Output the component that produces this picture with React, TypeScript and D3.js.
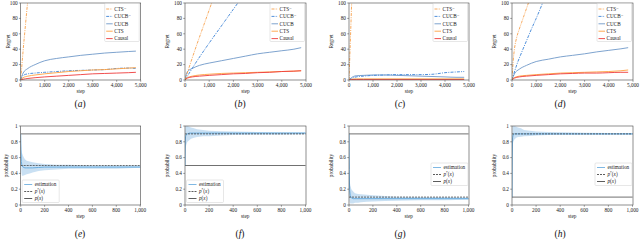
import React from 'react';
import * as d3 from 'd3';

// ---- regret panels (a)-(d) ----
const regretSteps = [0, 100, 300, 600, 1000, 1500, 2000, 2500, 3000, 3500, 4000, 4500, 4800];

const cucbA = [0, 9, 15, 20, 25, 28, 30, 32, 33.5, 35, 36, 37, 37.5];
const cucbMinusA = [0, 6, 8, 9, 10, 11, 12, 12.5, 13, 13.5, 15, 15.5, 15];
const ctsA = [0, 3, 5, 6.5, 8, 9.5, 11, 12, 13, 13.5, 14.5, 15.5, 16];
const causalA = [0, 1, 2, 3, 4, 5, 6, 7, 8, 8.5, 9, 9.5, 10];
const ctsMinusStepsA = [0, 100, 200, 300];
const ctsMinusA = [0, 38, 72, 105];

const cucbB = [0, 11, 15, 19, 22, 25, 28, 31, 34, 36, 38, 40, 42];
const cucbMinusStepsB = [0, 500, 1000, 1500, 2000, 2300];
const cucbMinusB = [0, 25, 48, 70, 92, 105];
const ctsB = [0, 3, 5, 6.5, 7.5, 8.5, 9, 9.5, 10, 10.5, 11, 11.5, 12];
const causalB = [0, 2.5, 4, 5, 6, 7, 8, 8.5, 9.5, 10, 11, 11.5, 12];
const ctsMinusStepsB = [0, 250, 500, 750, 1000, 1200];
const ctsMinusB = [0, 24, 47, 69, 91, 109];

const cucbC = [0, 3, 5.5, 6, 6.5, 6.5, 6, 5.5, 5, 4.5, 4, 3.5, 3.5];
const cucbMinusC = [0, 2, 4, 5, 6, 6.5, 7, 7, 7, 7.5, 9.5, 10.5, 11];
const ctsC = [0, 1, 1.5, 1.5, 1.5, 1.5, 1.5, 1.5, 1.5, 1.5, 1.5, 1.5, 1.5];
const causalC = [0, 0.5, 0.5, 0.5, 0.5, 0.5, 0.5, 0.5, 0.5, 0.5, 0.5, 0.5, 0.5];
const ctsMinusStepsC = [0, 50, 100, 120];
const ctsMinusC = [0, 45, 90, 108];

const cucbD = [0, 8, 14, 19, 24, 27, 30, 32, 34, 36.5, 38.5, 40.5, 42];
const cucbMinusStepsD = [0, 200, 400, 600, 800, 1000, 1200, 1300];
const cucbMinusD = [0, 20, 36, 51, 66, 80, 95, 103];
const ctsD = [0, 3, 5, 6, 7, 8, 9, 9.5, 10, 10.5, 11, 12, 13];
const causalD = [0, 2.5, 4, 5, 6, 7, 8, 8.5, 9, 9, 9.5, 10, 10];
const ctsMinusStepsD = [0, 50, 100, 200, 300, 400, 500, 600, 700];
const ctsMinusD = [0, 25, 40, 56, 66, 75, 84, 93, 102];

const regretXTicks = [0, 1000, 2000, 3000, 4000, 5000];
const regretYTicks = [0, 20, 40, 60, 80, 100];
const regretLegend = ['CTS⁻', 'CUCB⁻', 'CUCB', 'CTS', 'Causal'];

// ---- probability panels (e)-(h) ----
const probSteps = [0, 2, 5, 10, 20, 35, 50, 75, 100, 150, 200, 300, 400, 600, 800, 1000];

const estE = [0.9, 0.7, 0.55, 0.5, 0.48, 0.47, 0.47, 0.47, 0.47, 0.475, 0.48, 0.48, 0.48, 0.48, 0.48, 0.48];
const upE = [0.9, 0.8, 0.72, 0.66, 0.62, 0.58, 0.56, 0.55, 0.54, 0.53, 0.52, 0.51, 0.51, 0.5, 0.5, 0.5];
const loE = [0.9, 0.6, 0.42, 0.37, 0.37, 0.38, 0.39, 0.4, 0.41, 0.43, 0.44, 0.45, 0.46, 0.46, 0.46, 0.47];

const estF = [0.5, 0.8, 0.87, 0.89, 0.9, 0.91, 0.91, 0.91, 0.91, 0.91, 0.91, 0.91, 0.91, 0.91, 0.91, 0.91];
const upF = [0.5, 0.95, 1, 1, 1, 0.99, 0.98, 0.97, 0.96, 0.95, 0.94, 0.935, 0.93, 0.925, 0.92, 0.92];
const loF = [0.5, 0.65, 0.72, 0.76, 0.8, 0.82, 0.84, 0.85, 0.86, 0.87, 0.87, 0.88, 0.885, 0.89, 0.89, 0.895];

const estG = [0.9, 0.45, 0.2, 0.12, 0.09, 0.08, 0.08, 0.08, 0.08, 0.08, 0.08, 0.08, 0.08, 0.08, 0.08, 0.08];
const upG = [0.9, 0.6, 0.35, 0.25, 0.2, 0.17, 0.15, 0.14, 0.135, 0.13, 0.125, 0.115, 0.105, 0.1, 0.1, 0.095];
const loG = [0.9, 0.3, 0.05, 0.02, 0.02, 0.02, 0.03, 0.03, 0.035, 0.04, 0.045, 0.05, 0.055, 0.06, 0.06, 0.065];

const estH = [0.1, 0.6, 0.85, 0.89, 0.9, 0.9, 0.9, 0.9, 0.9, 0.9, 0.9, 0.9, 0.9, 0.9, 0.9, 0.9];
const upH = [0.1, 0.8, 1, 1, 1, 0.99, 0.98, 0.97, 0.95, 0.94, 0.93, 0.925, 0.92, 0.915, 0.91, 0.91];
const loH = [0.1, 0.45, 0.75, 0.8, 0.83, 0.85, 0.86, 0.865, 0.87, 0.875, 0.88, 0.885, 0.89, 0.89, 0.89, 0.89];

const pTrue = [0.9, 0.5, 0.9, 0.1];
const pStar = [0.5, 0.9, 0.1, 0.9];

const probXTicks = [0, 200, 400, 600, 800, 1000];
const probYTicks = [0, 0.2, 0.4, 0.6, 0.8, 1];

const topCaptions = ['a', 'b', 'c', 'd'];
const bottomCaptions = ['e', 'f', 'g', 'h'];

const FONT = '"Liberation Serif", "DejaVu Serif", serif';
const C = {
  ctsMinus: '#f7a04c',
  cucbMinus: '#3b82d6',
  cucb: '#6f98c8',
  cts: '#ffa040',
  causal: '#ee3b3b',
  est: '#5ea6dc',
  band: '#bcd8f0',
  dark: '#333333',
};
const DASH = '3,1.2,1,1.2';

const fmt = d3.format(',');
const pfmt = (v: number) => (v === 0 || v === 1 ? String(v) : v.toFixed(1));

type Pt = [number, number];
const zip = (xs: number[], ys: number[]): Pt[] => xs.map((x, i) => [x, ys[i]]);

const regretPanels = [
  { ctsM: zip(ctsMinusStepsA, ctsMinusA), cucbM: zip(regretSteps, cucbMinusA), cucb: cucbA, cts: ctsA, causal: causalA },
  { ctsM: zip(ctsMinusStepsB, ctsMinusB), cucbM: zip(cucbMinusStepsB, cucbMinusB), cucb: cucbB, cts: ctsB, causal: causalB },
  { ctsM: zip(ctsMinusStepsC, ctsMinusC), cucbM: zip(regretSteps, cucbMinusC), cucb: cucbC, cts: ctsC, causal: causalC },
  { ctsM: zip(ctsMinusStepsD, ctsMinusD), cucbM: zip(cucbMinusStepsD, cucbMinusD), cucb: cucbD, cts: ctsD, causal: causalD },
];
const probPanels = [
  { est: estE, up: upE, lo: loE },
  { est: estF, up: upF, lo: loF },
  { est: estG, up: upG, lo: loG },
  { est: estH, up: upH, lo: loH },
];

// axes placement (pixels)
const lefts = [20.7, 185, 349, 512];
const rights = [140.7, 306, 469, 633];
const topRow = { top: 3, bottom: 80 };
const botRow = { top: 126, bottom: 205 };
const legendPos = ['bl', 'bl', 'r', 'r'];

function Frame({ x0, x1, y0, y1 }: { x0: number; x1: number; y0: number; y1: number }) {
  return <rect x={x0} y={y0} width={x1 - x0} height={y1 - y0} fill="none" stroke="#444" strokeWidth={0.6} />;
}

function Axes({ x, y, xt, yt, xf, yf, ylabel, labelX }: any) {
  const [y1, y0] = y.range();
  const [x0] = x.range();
  return (
    <g fontFamily={FONT} fontSize={5.3} fill="#222">
      {xt.map((t: number) => (
        <g key={'x' + t}>
          <line x1={x(t)} x2={x(t)} y1={y1} y2={y1 + 1.8} stroke="#444" strokeWidth={0.5} />
          <text x={x(t)} y={y1 + 7} textAnchor="middle">{xf(t)}</text>
        </g>
      ))}
      {yt.map((t: number) => (
        <g key={'y' + t}>
          <line x1={x0 - 1.8} x2={x0} y1={y(t)} y2={y(t)} stroke="#444" strokeWidth={0.5} />
          <text x={x0 - 3} y={y(t) + 1.8} textAnchor="end">{yf(t)}</text>
        </g>
      ))}
      <text x={(x0 + x.range()[1]) / 2} y={y1 + 12.5} textAnchor="middle">step</text>
      <text transform={`translate(${labelX},${(y0 + y1) / 2}) rotate(-90)`} textAnchor="middle">{ylabel}</text>
    </g>
  );
}

function RegretPanel({ i }: { i: number }) {
  const d = regretPanels[i];
  const x = d3.scaleLinear().domain([0, 5000]).range([lefts[i], rights[i]]);
  const y = d3.scaleLinear().domain([0, 100]).range([topRow.bottom, topRow.top]);
  const line = d3.line<Pt>().x(p => x(p[0])).y(p => y(p[1])).curve(d3.curveMonotoneX);
  const id = `clipR${i}`;
  const lines = [
    { pts: zip(regretSteps, d.cucb), c: C.cucb, dash: undefined },
    { pts: d.cucbM, c: C.cucbMinus, dash: DASH },
    { pts: zip(regretSteps, d.cts), c: C.cts, dash: undefined },
    { pts: zip(regretSteps, d.causal), c: C.causal, dash: undefined },
    { pts: d.ctsM, c: C.ctsMinus, dash: DASH },
  ];
  const legendStyle = [
    { c: C.ctsMinus, dash: DASH },
    { c: C.cucbMinus, dash: DASH },
    { c: C.cucb, dash: undefined },
    { c: C.cts, dash: undefined },
    { c: C.causal, dash: undefined },
  ];
  const lx = rights[i] - 36;
  const ly = topRow.top + 0.5;
  const labelX = lefts[i] - (i === 0 ? 11 : 16);
  return (
    <g>
      <defs>
        <clipPath id={id}>
          <rect x={lefts[i]} y={topRow.top} width={rights[i] - lefts[i]} height={topRow.bottom - topRow.top} />
        </clipPath>
      </defs>
      <g clipPath={`url(#${id})`}>
        {lines.map((s, k) => (
          <path key={k} d={line(s.pts) || ''} fill="none" stroke={s.c} strokeWidth={0.9} strokeDasharray={s.dash} />
        ))}
      </g>
      <Frame x0={lefts[i]} x1={rights[i]} y0={topRow.top} y1={topRow.bottom} />
      <Axes x={x} y={y} xt={regretXTicks} yt={regretYTicks} xf={fmt} yf={String} ylabel="Regret" labelX={labelX} />
      <g fontFamily={FONT} fontSize={5.2}>
        <rect x={lx} y={ly} width={34.5} height={38} rx={1} fill="white" fillOpacity={0.85} stroke="#cfcfcf" strokeWidth={0.5} />
        {regretLegend.map((name, k) => {
          const yy = ly + 5.5 + k * 7.4;
          return (
            <g key={name}>
              <line x1={lx + 1.5} x2={lx + 8} y1={yy} y2={yy} stroke={legendStyle[k].c} strokeWidth={0.9} strokeDasharray={legendStyle[k].dash} />
              <text x={lx + 9.5} y={yy + 1.7} fill="#222">{name}</text>
            </g>
          );
        })}
      </g>
    </g>
  );
}

function PStar() {
  return (
    <>
      <tspan fontStyle="italic">p</tspan>
      <tspan fontSize={3.5} dy={-2}>*</tspan>
      <tspan dy={2}>(</tspan>
      <tspan fontStyle="italic">x</tspan>
      <tspan>)</tspan>
    </>
  );
}
function PX() {
  return (
    <>
      <tspan fontStyle="italic">p</tspan>
      <tspan>(</tspan>
      <tspan fontStyle="italic">x</tspan>
      <tspan>)</tspan>
    </>
  );
}

function ProbPanel({ i }: { i: number }) {
  const d = probPanels[i];
  const x = d3.scaleLinear().domain([0, 1000]).range([lefts[i], rights[i] - 0.5]);
  const y = d3.scaleLinear().domain([0, 1]).range([botRow.bottom, botRow.top]);
  const pts = probSteps.map((s, k) => ({ s, e: d.est[k], u: d.up[k], l: d.lo[k] }));
  const area = d3.area<any>().x(p => x(p.s)).y0(p => y(p.l)).y1(p => y(p.u));
  const line = d3.line<any>().x(p => x(p.s)).y(p => y(p.e));
  const id = `clipP${i}`;
  const labelX = lefts[i] - (i === 0 ? 13 : 16);
  const pos = legendPos[i];
  const lw = 37;
  const lh = 22.5;
  const lx = pos === 'bl' ? lefts[i] + 1.5 : rights[i] - lw - 1;
  const ly = pos === 'bl' ? botRow.bottom - lh - 2.5 : botRow.top + 37;
  const entries = [
    { c: C.est, dash: undefined, label: <tspan>estimation</tspan> },
    { c: C.dark, dash: '2,1', label: <PStar /> },
    { c: C.dark, dash: undefined, label: <PX /> },
  ];
  return (
    <g>
      <defs>
        <clipPath id={id}>
          <rect x={lefts[i]} y={botRow.top} width={rights[i] - lefts[i]} height={botRow.bottom - botRow.top} />
        </clipPath>
      </defs>
      <g clipPath={`url(#${id})`}>
        <path d={area(pts) || ''} fill={C.band} fillOpacity={0.8} />
        <line x1={x(0)} x2={x(1000)} y1={y(pTrue[i])} y2={y(pTrue[i])} stroke={C.dark} strokeWidth={0.7} />
        <path d={line(pts) || ''} fill="none" stroke={C.est} strokeWidth={0.9} />
        <line x1={x(0)} x2={x(1000)} y1={y(pStar[i])} y2={y(pStar[i])} stroke={C.dark} strokeWidth={0.7} strokeDasharray="2,1" />
      </g>
      <Frame x0={lefts[i]} x1={rights[i]} y0={botRow.top} y1={botRow.bottom} />
      <Axes x={x} y={y} xt={probXTicks} yt={probYTicks} xf={fmt} yf={pfmt} ylabel="probability" labelX={labelX} />
      <g fontFamily={FONT} fontSize={5.2}>
        <rect x={lx} y={ly} width={lw} height={lh} rx={1} fill="white" fillOpacity={0.85} stroke="#cfcfcf" strokeWidth={0.5} />
        {entries.map((e, k) => {
          const yy = ly + 4.5 + k * 7;
          return (
            <g key={k}>
              <line x1={lx + 2} x2={lx + 10} y1={yy} y2={yy} stroke={e.c} strokeWidth={0.8} strokeDasharray={e.dash} />
              <text x={lx + 12.5} y={yy + 1.7} fill="#222">{e.label}</text>
            </g>
          );
        })}
      </g>
    </g>
  );
}

export default function App() {
  return (
    <svg width={640} height={245} style={{ position: 'absolute', left: 0, top: 0, background: 'white' }}>
      {topCaptions.map((c, i) => (
        <g key={c}>
          <RegretPanel i={i} />
          <text x={80 + i * 160} y={107} textAnchor="middle" fontFamily={FONT} fontSize={9.5} fill="#111">
            (<tspan fontStyle="italic">{c}</tspan>)
          </text>
        </g>
      ))}
      {bottomCaptions.map((c, i) => (
        <g key={c}>
          <ProbPanel i={i} />
          <text x={80 + i * 160} y={237} textAnchor="middle" fontFamily={FONT} fontSize={9.5} fill="#111">
            (<tspan fontStyle="italic">{c}</tspan>)
          </text>
        </g>
      ))}
    </svg>
  );
}
